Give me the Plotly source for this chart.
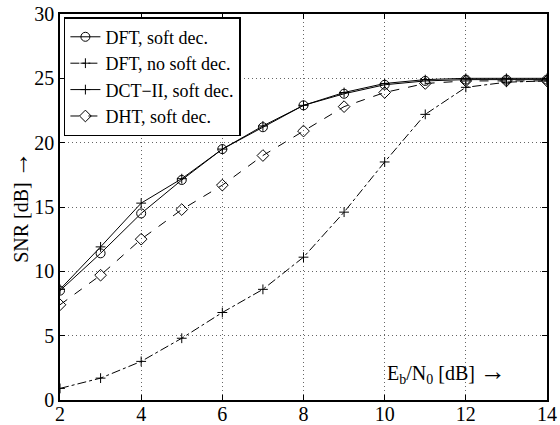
import plotly.graph_objects as go

ebn0 = [2, 3, 4, 5, 6, 7, 8, 9, 10, 11, 12, 13, 14]
dft_soft = [8.5, 11.4, 14.5, 17.1, 19.5, 21.2, 22.9, 23.8, 24.5, 24.8, 24.9, 24.9, 24.9]
dft_nosoft = [0.9, 1.7, 3.0, 4.8, 6.8, 8.6, 11.1, 14.6, 18.5, 22.2, 24.3, 24.7, 24.8]
dct_soft = [8.6, 11.9, 15.3, 17.2, 19.5, 21.3, 22.9, 23.9, 24.6, 24.9, 25.0, 25.0, 25.0]
dht_soft = [7.4, 9.7, 12.5, 14.8, 16.7, 19.0, 20.9, 22.8, 23.9, 24.6, 24.8, 24.8, 24.8]

names = ["DFT, soft dec.", "DFT, no soft dec.", "DCT\u2212II, soft dec.", "DHT, soft dec."]
series = [dft_soft, dft_nosoft, dct_soft, dht_soft]
dashes = ["solid", "dashdot", "solid", "dash"]
symbols = ["circle-open", "cross-thin-open", "cross-thin-open", "diamond-open"]
sizes = [9, 7, 7, 9]

FONT = "Liberation Serif"
ARROW = "<span style='font-size:26px'>\u2192</span>"

fig = go.Figure()
for name, ys, d, s, sz in zip(names, series, dashes, symbols, sizes):
    fig.add_trace(go.Scatter(
        x=ebn0, y=ys, name=name, mode="lines+markers",
        line=dict(color="black", width=1, dash=d),
        marker=dict(symbol=s, size=sz, color="black", line=dict(color="black", width=1)),
    ))

axis_common = dict(
    showline=True, linecolor="black", linewidth=1.5, mirror="ticks",
    ticks="inside", ticklen=5, tickcolor="black",
    showgrid=True, gridcolor="#666666", gridwidth=1, griddash="1px,3px",
    zeroline=False, tickfont=dict(family=FONT, size=20, color="black"),
    automargin=False,
)

fig.update_layout(
    width=560, height=425,
    margin=dict(l=60, r=13, t=14, b=25),
    paper_bgcolor="white", plot_bgcolor="white",
    font=dict(family=FONT, size=20, color="black"),
    xaxis=dict(range=[2, 14], tickvals=[2, 4, 6, 8, 10, 12, 14],
               ticklabelstandoff=-5, **axis_common),
    yaxis=dict(range=[0, 30], tickvals=[0, 5, 10, 15, 20, 25, 30],
               title=dict(text="SNR [dB] " + ARROW, font=dict(family=FONT, size=20), standoff=0),
               **axis_common),
    legend=dict(x=0.008, y=0.992, xanchor="left", yanchor="top",
                bgcolor="white", bordercolor="black", borderwidth=1.5,
                font=dict(family=FONT, size=18), tracegroupgap=0,
                itemwidth=30),
    showlegend=True,
)

fig.add_annotation(
    x=10, y=2.2, xref="x", yref="y", xanchor="left", yanchor="middle",
    text="E<sub>b</sub>/N<sub>0</sub> [dB] " + ARROW, showarrow=False,
    font=dict(family=FONT, size=20, color="black"),
)

fig.write_html("out.html", config={"displayModeBar": False},
               post_script="document.body.style.margin='0';")
